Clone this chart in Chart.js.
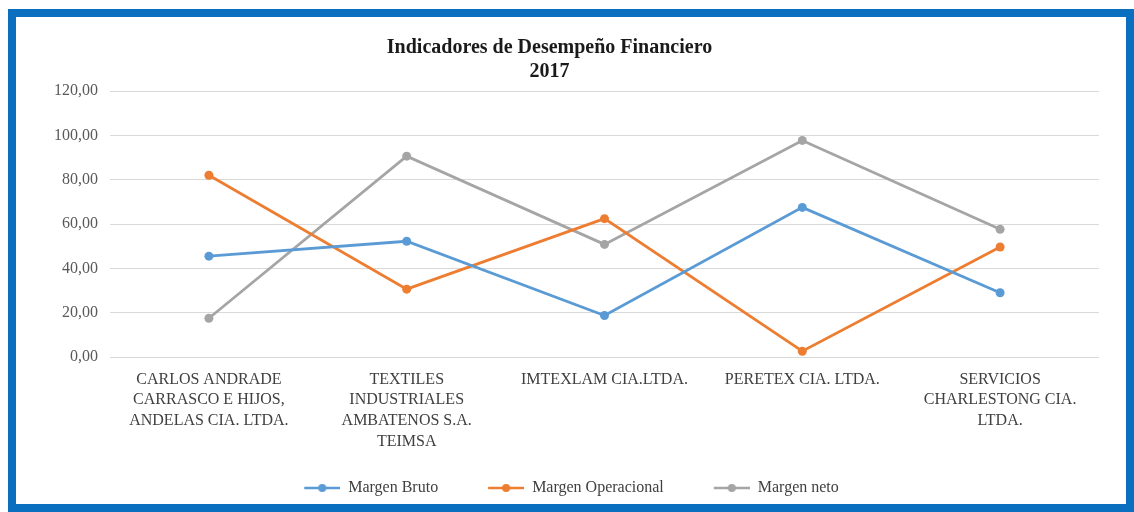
<!DOCTYPE html>
<html>
<head>
<meta charset="utf-8">
<script src="https://cdn.jsdelivr.net/npm/chart.js@4.4.0/dist/chart.umd.min.js"></script>
<style>
  html, body { margin: 0; padding: 0; background: #ffffff; }
  #wrap { position: relative; width: 1134px; height: 512px; overflow: hidden; }
  #frame {
    position: absolute; left: 8px; top: 9px; width: 1126px; height: 503px;
    box-sizing: border-box; border: 8px solid #0B6FC0; pointer-events: none;
  }
  canvas { position: absolute; left: 0; top: 0; }
</style>
</head>
<body>
<div id="wrap">
  <canvas id="chart" width="1134" height="512"></canvas>
  <div id="frame"></div>
</div>
<script>
const categories = [
  ['CARLOS ANDRADE', 'CARRASCO E HIJOS,', 'ANDELAS CIA. LTDA.'],
  ['TEXTILES', 'INDUSTRIALES', 'AMBATENOS S.A.', 'TEIMSA'],
  ['IMTEXLAM CIA.LTDA.'],
  ['PERETEX CIA. LTDA.'],
  ['SERVICIOS', 'CHARLESTONG CIA.', 'LTDA.']
];
const margenBruto = [45.5, 52.2, 18.7, 67.5, 29.0];
const margenOperacional = [82.0, 30.6, 62.4, 2.6, 49.6];
const margenNeto = [17.5, 90.6, 50.8, 97.7, 57.6];
const seriesNames = ['Margen Bruto', 'Margen Operacional', 'Margen neto'];
const seriesColors = ['#5B9BD5', '#ED7D31', '#A5A5A5'];
const titleLines = ['Indicadores de Desempeño Financiero', '2017'];

const serif = '"Liberation Serif", "DejaVu Serif", serif';

// legend icon: blank gap on the left (spacing between items), then line with dot
const ICON_GAP = 44;
function legendIcon(color) {
  const c = document.createElement('canvas');
  c.width = ICON_GAP + 36; c.height = 12;
  const g = c.getContext('2d');
  g.strokeStyle = color;
  g.lineWidth = 2.5;
  g.beginPath(); g.moveTo(ICON_GAP, 6); g.lineTo(ICON_GAP + 36, 6); g.stroke();
  g.fillStyle = color;
  g.beginPath(); g.arc(ICON_GAP + 18, 6, 4, 0, Math.PI * 2); g.fill();
  return c;
}

const values = [margenBruto, margenOperacional, margenNeto];
const datasets = values.map((data, i) => ({
  label: seriesNames[i],
  data: data,
  borderColor: seriesColors[i],
  backgroundColor: seriesColors[i],
  borderWidth: 2.8,
  pointRadius: 4.5,
  pointBorderWidth: 0,
  pointStyle: 'circle',
  tension: 0
}));
const icons = seriesColors.map(legendIcon);

new Chart(document.getElementById('chart'), {
  type: 'line',
  data: { labels: categories, datasets: datasets },
  options: {
    responsive: false,
    animation: false,
    layout: { padding: { left: 0, right: 35, top: 20, bottom: 6 } },
    plugins: {
      title: {
        display: true,
        text: titleLines,
        color: '#1a1a1a',
        font: { family: serif, size: 20, weight: 'bold', lineHeight: 1.2 },
        padding: { top: 16, bottom: 7 }
      },
      legend: {
        position: 'bottom',
        labels: {
          usePointStyle: true,
          pointStyleWidth: ICON_GAP + 36,
          color: '#404040',
          font: { family: serif, size: 16 },
          padding: 6,
          generateLabels: (chart) => chart.data.datasets.map((d, i) => ({
            text: d.label,
            pointStyle: icons[i],
            fillStyle: d.borderColor,
            strokeStyle: d.borderColor,
            lineWidth: 0,
            fontColor: '#404040',
            datasetIndex: i,
            hidden: false
          }))
        }
      },
      tooltip: { enabled: false }
    },
    scales: {
      x: {
        offset: true,
        grid: { display: false, drawTicks: false },
        border: { display: false },
        ticks: {
          autoSkip: false,
          maxRotation: 0,
          color: '#404040',
          padding: 12,
          font: { family: serif, size: 16, lineHeight: 1.3 }
        },
        afterFit: (scale) => { scale.height = 117; }
      },
      y: {
        min: 0,
        max: 120,
        grid: { color: '#D9D9D9', drawTicks: false, lineWidth: 1 },
        border: { display: false },
        ticks: {
          stepSize: 20,
          color: '#595959',
          padding: 12,
          font: { family: serif, size: 16 },
          callback: (v) => v.toFixed(2).replace('.', ',')
        },
        afterFit: (scale) => { scale.width = 110; }
      }
    }
  }
});
</script>
</body>
</html>
